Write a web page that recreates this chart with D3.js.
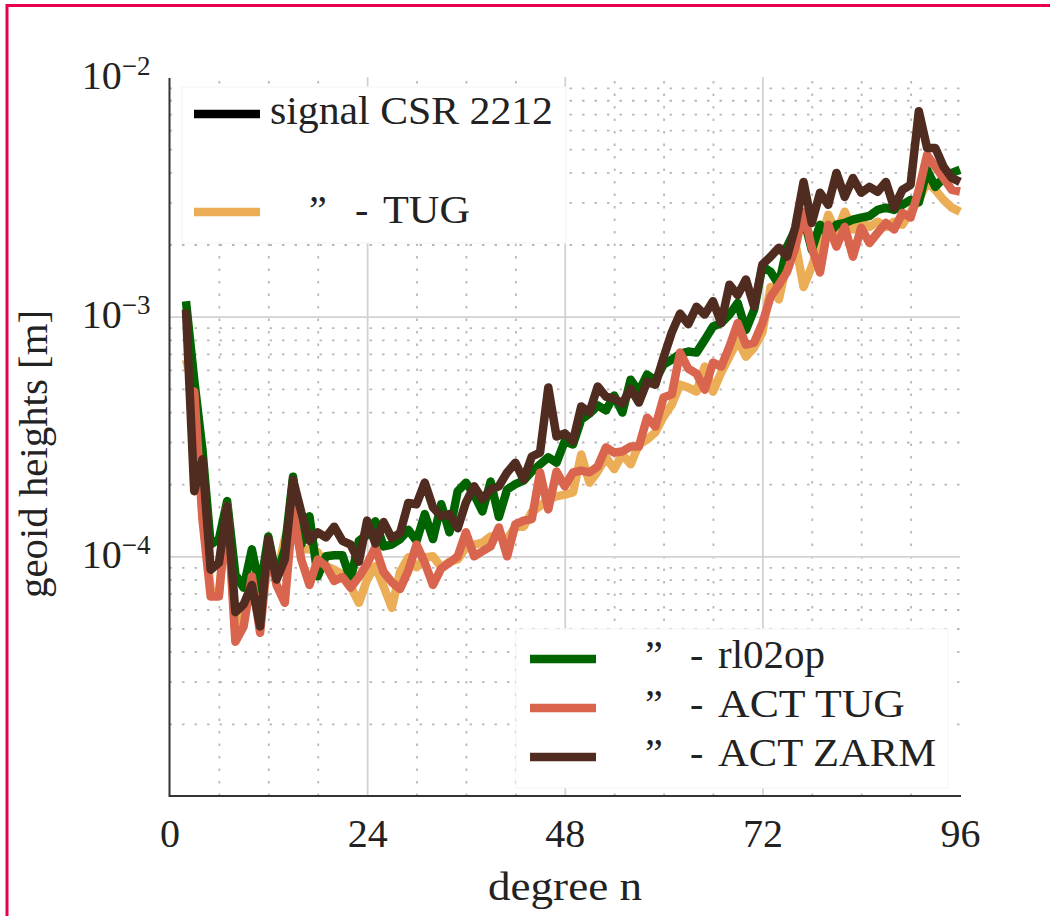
<!DOCTYPE html>
<html><head><meta charset="utf-8">
<script src="https://cdn.jsdelivr.net/npm/d3@7"></script>
<style>
body{margin:0;background:#fff}
svg{display:block}
text{font-family:"Liberation Serif","Times New Roman",serif;fill:#222}
</style>
</head><body>
<svg id="c" width="1050" height="916"></svg>
<script>
const degrees = [2,3,4,5,6,7,8,9,10,11,12,13,14,15,16,17,18,19,20,21,22,23,24,25,26,27,28,29,30,31,32,33,34,35,36,37,38,39,40,41,42,43,44,45,46,47,48,49,50,51,52,53,54,55,56,57,58,59,60,61,62,63,64,65,66,67,68,69,70,71,72,73,74,75,76,77,78,79,80,81,82,83,84,85,86,87,88,89,90,91,92,93,94,95,96];

const tug = [6.62e-4,4.96e-4,1.50e-4,7.3e-5,6.9e-5,1.57e-4,4.8e-5,6.0e-5,8.0e-5,5.2e-5,
1.14e-4,8.25e-5,1.18e-4,1.53e-4,1.07e-4,1.07e-4,1.04e-4,9.1e-5,8.8e-5,8.4e-5,
7.5e-5,6.4e-5,8.0e-5,9.1e-5,7.5e-5,6.1e-5,8.6e-5,9.9e-5,9.0e-5,9.9e-5,
1.0e-4,9.0e-5,9.5e-5,9.7e-5,1.09e-4,1.12e-4,1.14e-4,1.21e-4,1.22e-4,1.18e-4,
1.33e-4,1.33e-4,1.53e-4,1.62e-4,1.73e-4,1.78e-4,1.81e-4,1.85e-4,2.66e-4,2.03e-4,
2.26e-4,2.59e-4,2.31e-4,2.66e-4,2.42e-4,2.93e-4,3.07e-4,3.29e-4,3.83e-4,4.3e-4,
5.2e-4,5.06e-4,4.87e-4,6.19e-4,4.87e-4,5.85e-4,6.81e-4,8.0e-4,6.81e-4,7.43e-4,
8.6e-4,1.33e-3,1.18e-3,1.68e-3,2.03e-3,1.33e-3,1.62e-3,2.03e-3,2.66e-3,2.24e-3,
2.74e-3,2.31e-3,2.49e-3,2.37e-3,2.49e-3,2.37e-3,2.49e-3,2.42e-3,2.74e-3,3.07e-3,
3.65e-3,3.38e-3,3.07e-3,2.85e-3,2.74e-3];

const rl02op = [1.16e-3,5.46e-4,2.79e-4,1.12e-4,1.18e-4,1.70e-4,8.4e-5,7.4e-5,1.07e-4,7.3e-5,
1.21e-4,8.2e-5,1.07e-4,2.15e-4,1.12e-4,1.47e-4,8.25e-5,1.0e-4,1.01e-4,1.01e-4,
8.0e-5,1.16e-4,1.23e-4,1.40e-4,1.10e-4,1.12e-4,1.18e-4,1.29e-4,1.16e-4,1.50e-4,
1.18e-4,1.65e-4,1.26e-4,1.87e-4,2.03e-4,1.81e-4,1.54e-4,2.05e-4,1.46e-4,1.90e-4,
2.00e-4,2.07e-4,2.26e-4,2.42e-4,2.59e-4,2.46e-4,3.02e-4,2.93e-4,3.72e-4,3.94e-4,
4.26e-4,4.06e-4,4.69e-4,3.98e-4,5.46e-4,4.87e-4,5.73e-4,5.41e-4,6.31e-4,6.62e-4,
7.01e-4,7.15e-4,7.08e-4,8.0e-4,9.1e-4,9.4e-4,1.02e-3,1.14e-3,8.8e-4,1.07e-3,
1.62e-3,1.54e-3,1.36e-3,1.96e-3,2.31e-3,2.59e-3,1.90e-3,2.42e-3,2.20e-3,2.42e-3,
2.46e-3,2.54e-3,2.59e-3,2.63e-3,2.79e-3,2.85e-3,2.79e-3,2.93e-3,3.07e-3,3.00e-3,
4.10e-3,3.48e-3,3.79e-3,3.98e-3,4.10e-3];

const actTug = [4.82e-4,4.87e-4,1.43e-4,6.8e-5,6.8e-5,1.62e-4,4.4e-5,5.1e-5,8.25e-5,4.8e-5,
1.07e-4,7.6e-5,6.4e-5,1.57e-4,9.7e-5,7.6e-5,9.7e-5,9.1e-5,7.9e-5,8.2e-5,
7.4e-5,8.2e-5,9.3e-5,1.09e-4,8.6e-5,7.8e-5,7.3e-5,8.7e-5,1.12e-4,9.4e-5,
7.6e-5,8.9e-5,9.4e-5,1.0e-4,1.26e-4,1.0e-4,1.05e-4,1.10e-4,1.32e-4,1.0e-4,
1.36e-4,1.41e-4,1.43e-4,2.24e-4,1.57e-4,2.26e-4,1.96e-4,2.24e-4,2.28e-4,2.24e-4,
2.37e-4,2.85e-4,2.71e-4,2.74e-4,2.87e-4,2.87e-4,3.79e-4,3.48e-4,4.6e-4,4.74e-4,
7.08e-4,6.07e-4,5.79e-4,4.96e-4,6.43e-4,6.19e-4,7.5e-4,9.4e-4,7.64e-4,7.8e-4,
9.4e-4,1.21e-3,1.36e-3,1.54e-3,1.94e-3,2.74e-3,1.94e-3,1.53e-3,2.42e-3,1.96e-3,
2.37e-3,1.78e-3,2.35e-3,2.03e-3,2.24e-3,2.46e-3,2.31e-3,2.71e-3,2.59e-3,3.38e-3,
4.73e-3,4.22e-3,3.79e-3,3.38e-3,3.33e-3];

const actZarm = [1.07e-3,1.87e-4,2.54e-4,8.8e-5,9.4e-5,1.62e-4,5.85e-5,6.3e-5,7.6e-5,5.1e-5,
1.18e-4,8.0e-5,9.7e-5,2.09e-4,1.53e-4,1.16e-4,1.26e-4,1.2e-4,1.33e-4,1.16e-4,
1.12e-4,9.5e-5,1.41e-4,1.13e-4,1.39e-4,1.19e-4,1.25e-4,1.67e-4,1.65e-4,2.03e-4,
1.6e-4,1.47e-4,1.5e-4,1.31e-4,1.68e-4,1.96e-4,1.73e-4,1.9e-4,1.96e-4,2.24e-4,
2.46e-4,2.09e-4,2.61e-4,2.71e-4,5.06e-4,3.16e-4,3.26e-4,3.02e-4,4.22e-4,3.98e-4,
5.11e-4,4.64e-4,4.55e-4,4.34e-4,5.01e-4,4.38e-4,5.36e-4,5.2e-4,6.75e-4,8.6e-4,
1.03e-3,9.3e-4,1.10e-3,1.02e-3,1.16e-3,9.4e-4,1.36e-3,1.23e-3,1.43e-3,1.10e-3,
1.65e-3,1.78e-3,1.94e-3,1.78e-3,2.37e-3,3.65e-3,2.46e-3,3.29e-3,2.93e-3,3.98e-3,
3.16e-3,3.79e-3,3.29e-3,3.48e-3,3.32e-3,3.65e-3,2.85e-3,3.38e-3,3.55e-3,7.2e-3,
5.06e-3,5.06e-3,4.22e-3,3.79e-3,3.65e-3];

const xTicks = [0,24,48,72,96];
const xMinor = [6,12,18,30,36,42,54,60,66,78,84,90];
const yTicks = [1e-2,1e-3,1e-4];
const yTickExp = ["−2","−3","−4"];
const legendTop = ["signal CSR 2212","TUG"];
const legendBottom = ["rl02op","ACT TUG","ACT ZARM"];

const colors = {signal:"#000000", tug:"#EBAE56", rl02op:"#006400", actTug:"#D9654E", actZarm:"#502B1F"};

const svg = d3.select("#c");
const x = d3.scaleLinear().domain([0,96]).range([169.5,960]);
const y = d3.scaleLog().domain([1e-5,1e-2]).range([796,77]);
const x0 = x.range()[0], x1 = x.range()[1], y0 = y.range()[0], y1 = y.range()[1];

// frame
svg.append("line").attr("x1",7).attr("x2",1050).attr("y1",5.5).attr("y2",5.5).attr("stroke","#E8004E").attr("stroke-width",3);
svg.append("line").attr("x1",7).attr("x2",7).attr("y1",4).attr("y2",916).attr("stroke","#E8004E").attr("stroke-width",3);

// minor grid (dotted)
const yMinor = y.ticks().filter(v => Math.abs(Math.log10(v) - Math.round(Math.log10(v))) > 1e-6);
const gMinY = svg.append("g").attr("transform",`translate(${x0},0)`)
  .call(d3.axisLeft(y).tickValues(yMinor).tickSize(-(x1-x0)).tickFormat(""));
gMinY.select(".domain").remove();
gMinY.selectAll("line").attr("stroke","#b8b8b8").attr("stroke-width",1.8).attr("stroke-dasharray","2.5,10");

const gMinX = svg.append("g").attr("transform",`translate(0,${y0})`)
  .call(d3.axisBottom(x).tickValues(xMinor).tickSize(-(y0-y1)).tickFormat(""));
gMinX.select(".domain").remove();
gMinX.selectAll("line").attr("stroke","#b8b8b8").attr("stroke-width",1.8).attr("stroke-dasharray","2.5,10");

// major grid (solid)
const gMajY = svg.append("g").attr("transform",`translate(${x0},0)`)
  .call(d3.axisLeft(y).tickValues([1e-3,1e-4]).tickSize(-(x1-x0)).tickFormat(""));
gMajY.select(".domain").remove();
gMajY.selectAll("line").attr("stroke","#d2d2d2").attr("stroke-width",1.8);

const gMajX = svg.append("g").attr("transform",`translate(0,${y0})`)
  .call(d3.axisBottom(x).tickValues([24,48,72]).tickSize(-(y0-y1)).tickFormat(""));
gMajX.select(".domain").remove();
gMajX.selectAll("line").attr("stroke","#d2d2d2").attr("stroke-width",1.8);

// series
const line = d3.line().x(d => x(d[0])).y(d => y(d[1])).curve(d3.curveLinear);
const drawOrder = [["tug",tug],["rl02op",rl02op],["actTug",actTug],["actZarm",actZarm]];
drawOrder.forEach(([k,vals]) => {
  svg.append("path")
    .datum(degrees.map((n,i) => [n, vals[i]]))
    .attr("d", line)
    .attr("fill","none")
    .attr("stroke", colors[k])
    .attr("stroke-width", 8.5)
    .attr("stroke-linejoin","round")
    .attr("stroke-linecap","butt");
});

// axes spines + tick labels
const gx = svg.append("g").attr("transform",`translate(0,${y0})`)
  .call(d3.axisBottom(x).tickValues(xTicks).tickSize(0).tickFormat(d3.format("d")));
gx.select(".domain").attr("stroke","#333").attr("stroke-width",2).attr("d",`M${x0},0H${x1+1}`);
gx.selectAll("text").attr("y",51).attr("dy",null).attr("font-size",40)
  .style("font-family",'"Liberation Serif",serif').attr("fill","#222");

const gy = svg.append("g").attr("transform",`translate(${x0},0)`)
  .call(d3.axisLeft(y).tickValues(yTicks).tickSize(0).tickFormat(""));
gy.select(".domain").attr("stroke","#333").attr("stroke-width",2).attr("d",`M0,${y0+1}V${y1+1}`);
gy.selectAll(".tick").each(function(d,i){
  const t = d3.select(this).append("text")
    .attr("x",-19).attr("y",11).attr("text-anchor","end")
    .attr("font-size",40).attr("fill","#222")
    .style("font-family",'"Liberation Serif",serif');
  t.append("tspan").text("10");
  t.append("tspan").attr("dy",-14).attr("font-size",27).text(yTickExp[i]);
});

// axis titles
svg.append("text").attr("x",565).attr("y",900).attr("text-anchor","middle")
  .attr("font-size",40).attr("textLength",154).attr("lengthAdjust","spacingAndGlyphs").text("degree n");
svg.append("text").attr("transform","translate(47,454) rotate(-90)").attr("text-anchor","middle")
  .attr("font-size",40).attr("textLength",288).attr("lengthAdjust","spacingAndGlyphs").text("geoid heights [m]");

// legend top-left
const L1 = svg.append("g");
L1.append("rect").attr("x",182).attr("y",87).attr("width",384).attr("height",156)
  .attr("fill","#fff").attr("stroke","#f4f4f4").attr("stroke-width",1);
L1.append("line").attr("x1",194).attr("x2",260).attr("y1",114).attr("y2",114)
  .attr("stroke",colors.signal).attr("stroke-width",8.5);
L1.append("text").attr("x",270).attr("y",124).attr("font-size",40)
  .attr("textLength",283).attr("lengthAdjust","spacingAndGlyphs").text(legendTop[0]);
L1.append("line").attr("x1",194).attr("x2",260).attr("y1",212).attr("y2",212)
  .attr("stroke",colors.tug).attr("stroke-width",8.5);
L1.append("text").attr("x",309).attr("y",223).attr("font-size",40).text("”");
L1.append("text").attr("x",355).attr("y",223).attr("font-size",40).text("-");
L1.append("text").attr("x",383).attr("y",223).attr("font-size",40)
  .attr("textLength",87).attr("lengthAdjust","spacingAndGlyphs").text(legendTop[1]);

// legend bottom-right
const L2 = svg.append("g");
L2.append("rect").attr("x",516).attr("y",629).attr("width",432).attr("height",159)
  .attr("fill","#fff").attr("stroke","#f4f4f4").attr("stroke-width",1);
const l2cols = [colors.rl02op, colors.actTug, colors.actZarm];
const l2len = [107,187,218];
legendBottom.forEach((name,i) => {
  const cy = 659 + i*49;
  L2.append("line").attr("x1",530).attr("x2",596).attr("y1",cy).attr("y2",cy)
    .attr("stroke",l2cols[i]).attr("stroke-width",8.5);
  L2.append("text").attr("x",645).attr("y",cy+9).attr("font-size",40).text("”");
  L2.append("text").attr("x",690).attr("y",cy+9).attr("font-size",40).text("-");
  L2.append("text").attr("x",718).attr("y",cy+9).attr("font-size",40)
    .attr("textLength",l2len[i]).attr("lengthAdjust","spacingAndGlyphs").text(name);
});
</script>
</body></html>
